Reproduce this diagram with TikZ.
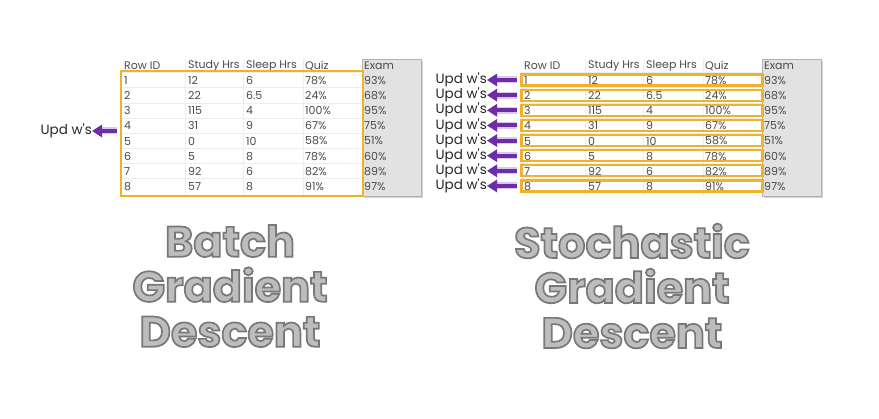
\documentclass[tikz,border=0pt]{standalone}
\usepackage{fontspec}
\usetikzlibrary{positioning, arrows.meta}
\newfontfamily\tabfont{Poppins}
\newfontfamily\titlefont{Poppins}
\definecolor{orangebox}{HTML}{F0B12C}
\definecolor{updpurple}{HTML}{6C2DA6}
\definecolor{examgray}{HTML}{E2E2E2}
\definecolor{celltext}{HTML}{4A4A4A}
\definecolor{titlefill}{HTML}{BDBDBD}
% outlined title letters: fill and stroke in one pass
\newcommand{\outl}[1]{\special{pdf:literal direct 2 Tr 1.7 w 0.47 0.47 0.47 RG}#1\special{pdf:literal direct 0 Tr}}

\begin{document}
\begin{tikzpicture}[
    x=1pt, y=-1pt,
    cell/.style={anchor=west, inner sep=0pt, text=celltext, font=\tabfont\fontsize{11}{12}\selectfont},
    examcol/.style={fill=examgray, draw=black!30, line width=0.4pt},
    gridline/.style={draw=black!7, line width=0.5pt},
    batchbox/.style={draw=orangebox, line width=2.2pt, minimum width=242pt, minimum height=125pt, inner sep=0pt},
    rowbox/.style={draw=orangebox, line width=2.2pt, minimum width=241pt, minimum height=11pt, inner sep=0pt},
    upd/.style={anchor=east, inner sep=0pt, text=black!85, font=\tabfont\fontsize{13.5}{14}\selectfont},
    arrow/.style={-{Triangle[length=10pt, width=12pt]}, line width=4pt, draw=updpurple,
        preaction={draw=updpurple, opacity=0.25, line width=7pt}},
    title/.style={align=center, inner sep=0pt, text=titlefill, font=\titlefont\bfseries\fontsize{43}{45}\selectfont}
]
    \useasboundingbox (0,0) rectangle (879,419);

    % Tables (B = batch, S = stochastic)
    \foreach \tb/\dx in {B/0, S/400} {
        % exam column
        \fill[black!18] (\dx+364,61) rectangle (\dx+423,198);
        \path[examcol] (\dx+362,59) rectangle (\dx+421,196);
        % faint grid
        \foreach \k in {0,...,7}
            \draw[gridline] (\dx+121,72.5+15.14*\k) -- (\dx+362,72.5+15.14*\k);
        \foreach \gx in {185,243,303}
            \draw[gridline] (\dx+\gx,59) -- (\dx+\gx,196);
        % header
        \foreach \hd [count=\c] in {Row ID, Study Hrs, Sleep Hrs, Quiz, Exam} {
            \pgfmathsetmacro{\hx}{{124,188,246,305,364}[\c-1]}
            \node[cell] (\tb-hdr-\c) at (\dx+\hx,66) {\hd};
        }
        % rows
        \foreach \id/\st/\sl/\qz/\ex [count=\r] in {1/12/6/78\%/93\%, 2/22/6.5/24\%/68\%,
                3/115/4/100\%/95\%, 4/31/9/67\%/75\%, 5/0/10/58\%/51\%,
                6/5/8/78\%/60\%, 7/92/6/82\%/89\%, 8/57/8/91\%/97\%} {
            \node[cell] (\tb-r\r-c1) at (\dx+124,80.5+15.14*\r-15.14) {\id};
            \node[cell] (\tb-r\r-c2) at (\dx+188,80.5+15.14*\r-15.14) {\st};
            \node[cell] (\tb-r\r-c3) at (\dx+246,80.5+15.14*\r-15.14) {\sl};
            \node[cell] (\tb-r\r-c4) at (\dx+305,80.5+15.14*\r-15.14) {\qz};
            \node[cell] (\tb-r\r-c5) at (\dx+364,80.5+15.14*\r-15.14) {\ex};
        }
    }

    % Batch: one box round all rows
    \node[batchbox] (batch) at (242,133.5) {};
    \node[upd] (updB) at (92,131) {Upd w's};
    \draw[arrow] ([xshift=-3pt]batch.west |- updB.east) -- (updB.east);

    % Stochastic: one box per row
    \foreach \r in {1,...,8} {
        \node[rowbox] (S-box-\r) at (642,80+15.14*\r-15.14) {};
        \node[upd] (updS-\r) at (487,80+15.14*\r-15.14) {Upd w's};
        \draw[arrow] ([xshift=-3pt]S-box-\r.west) -- (updS-\r.east);
    }

    % Titles
    \node[title] (batchtitle) at (230,286) {\outl{Batch}\\\outl{Gradient}\\\outl{Descent}};
    \node[title] (sgdtitle) at (632,286) {\outl{Stochastic}\\\outl{Gradient}\\\outl{Descent}};

\end{tikzpicture}
\end{document}
